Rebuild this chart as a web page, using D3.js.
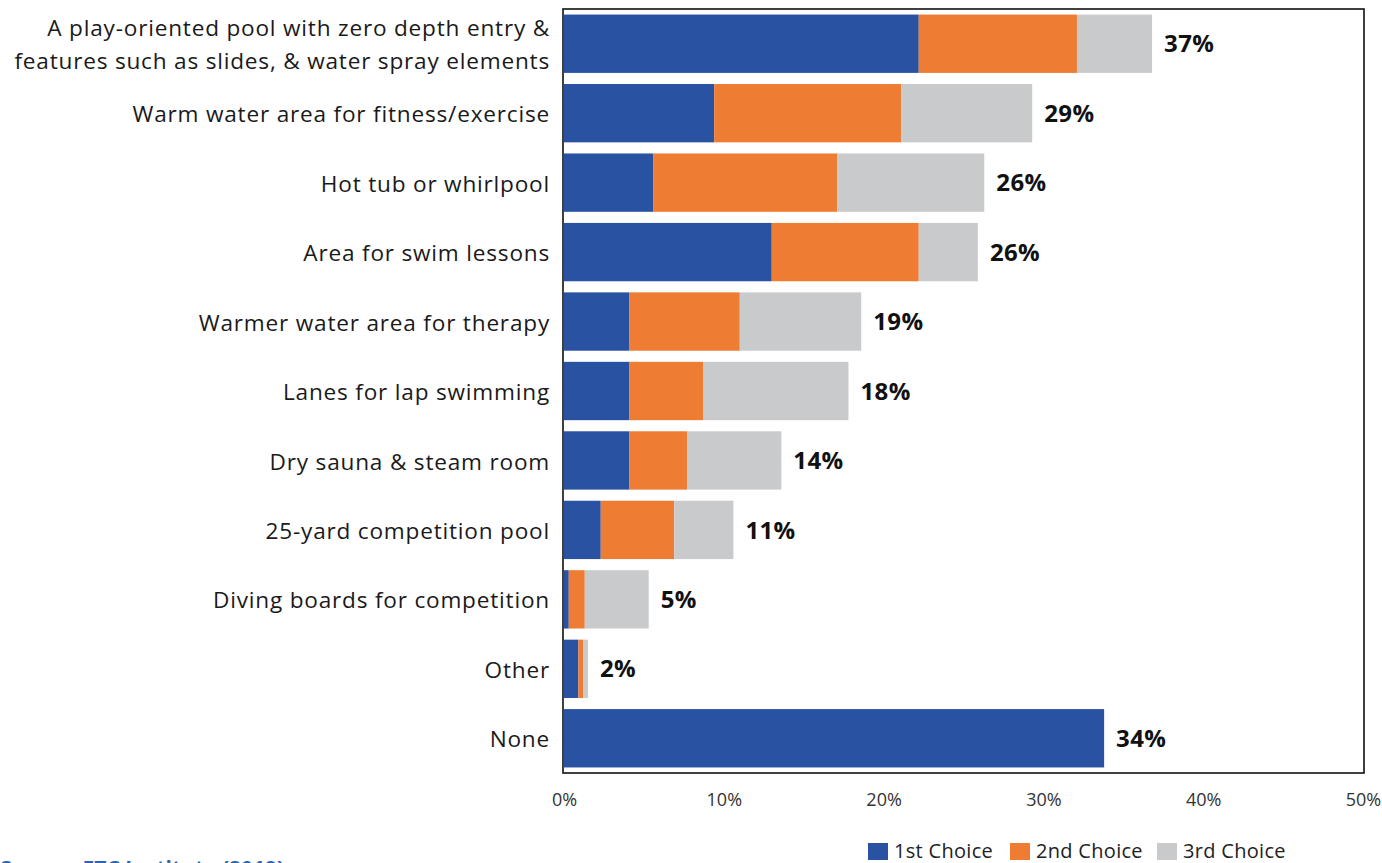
<!DOCTYPE html>
<html>
<head>
<meta charset="utf-8">
<script src="https://cdn.jsdelivr.net/npm/d3@7"></script>
<style>
  html, body { margin: 0; padding: 0; background: #fff; }
  svg { display: block; font-family: "Open Sans", "Noto Sans", sans-serif; }
</style>
</head>
<body>
<svg id="chart" width="1382" height="863"></svg>
<script>
// Amenity preferences for an indoor aquatic facility (percent of respondents)
const categories = [
  ["A play-oriented pool with zero depth entry &", "features such as slides, & water spray elements"],
  ["Warm water area for fitness/exercise"],
  ["Hot tub or whirlpool"],
  ["Area for swim lessons"],
  ["Warmer water area for therapy"],
  ["Lanes for lap swimming"],
  ["Dry sauna & steam room"],
  ["25-yard competition pool"],
  ["Diving boards for competition"],
  ["Other"],
  ["None"]
];
const firstChoice  = [22.2, 9.4, 5.6, 13.0, 4.1, 4.1, 4.1, 2.3, 0.3, 0.9, 33.8];
const secondChoice = [9.9, 11.7, 11.5, 9.2, 6.9, 4.6, 3.6, 4.6, 1.0, 0.3, 0.0];
const thirdChoice  = [4.7, 8.2, 9.2, 3.7, 7.6, 9.1, 5.9, 3.7, 4.0, 0.3, 0.0];
const seriesNames  = ["1st Choice", "2nd Choice", "3rd Choice"];
const seriesColors = ["#2a52a3", "#ee7d33", "#c9cacc"];
const xTicks = [0, 10, 20, 30, 40, 50];

const svg = d3.select("#chart");
const plot = { left: 564, right: 1363, top: 9, bottom: 773 };

const rows = categories.map((c, i) => ({
  key: i,
  lines: c,
  vals: [firstChoice[i], secondChoice[i], thirdChoice[i]]
}));

const x = d3.scaleLinear().domain([0, 50]).range([plot.left, plot.right]);
const y = d3.scaleBand()
  .domain(rows.map(r => r.key))
  .range([plot.top, plot.bottom])
  .paddingInner(0.16)
  .paddingOuter(0.08);

const stack = d3.stack().keys([0, 1, 2]).value((r, k) => r.vals[k]);
const layers = stack(rows);

// stacked segments
svg.append("g").selectAll("g")
  .data(layers)
  .join("g")
  .attr("fill", (d, i) => seriesColors[i])
  .selectAll("rect")
  .data(d => d)
  .join("rect")
  .attr("x", d => x(d[0]))
  .attr("width", d => Math.max(0, x(d[1]) - x(d[0])))
  .attr("y", d => y(d.data.key))
  .attr("height", y.bandwidth());

// plot frame
svg.append("rect")
  .attr("x", plot.left - 1)
  .attr("y", plot.top)
  .attr("width", plot.right - plot.left + 2)
  .attr("height", plot.bottom - plot.top)
  .attr("fill", "none")
  .attr("stroke", "#111")
  .attr("stroke-width", 1.6);

// category labels
const catG = svg.append("g")
  .attr("font-size", 22.6)
  .attr("letter-spacing", 0.8)
  .attr("fill", "#1a1a1a")
  .attr("text-anchor", "end");
rows.forEach(r => {
  const cy = y(r.key) + y.bandwidth() / 2;
  const n = r.lines.length;
  r.lines.forEach((ln, j) => {
    catG.append("text")
      .attr("x", 550)
      .attr("y", cy + 1 + (j - (n - 1) / 2) * 33)
      .attr("dy", "0.36em")
      .text(ln);
  });
});

// total labels
svg.append("g").selectAll("text")
  .data(rows)
  .join("text")
  .attr("x", r => x(d3.sum(r.vals)) + 12)
  .attr("y", r => y(r.key) + y.bandwidth() / 2)
  .attr("dy", "0.36em")
  .attr("font-size", 24)
  .attr("letter-spacing", 0.4)
  .attr("font-weight", 700)
  .attr("fill", "#111")
  .text(r => Math.round(d3.sum(r.vals)) + "%");

// x axis
const axis = svg.append("g")
  .attr("transform", `translate(0,${plot.bottom + 17})`)
  .call(d3.axisBottom(x).tickValues(xTicks).tickFormat(d => d + "%").tickSize(0));
axis.select(".domain").remove();
axis.selectAll("text")
  .attr("font-family", "\"Open Sans\", sans-serif")
  .attr("font-size", 18)
  .attr("fill", "#333");

// legend
const legendX = [868, 1010, 1157];
const lg = svg.append("g").attr("font-size", 20).attr("letter-spacing", 0.3).attr("fill", "#222");
seriesNames.forEach((name, i) => {
  lg.append("rect")
    .attr("x", legendX[i]).attr("y", 843)
    .attr("width", 20).attr("height", 17)
    .attr("fill", seriesColors[i]);
  lg.append("text")
    .attr("x", legendX[i] + 26).attr("y", 851)
    .attr("dy", "0.36em")
    .text(name);
});

// source note (runs off the bottom edge)
svg.append("text")
  .attr("x", 0).attr("y", 876)
  .attr("font-size", 21)
  .attr("font-weight", 700)
  .attr("fill", "#2e63b0")
  .text("Source: ETC Institute (2019)");
</script>
</body>
</html>
